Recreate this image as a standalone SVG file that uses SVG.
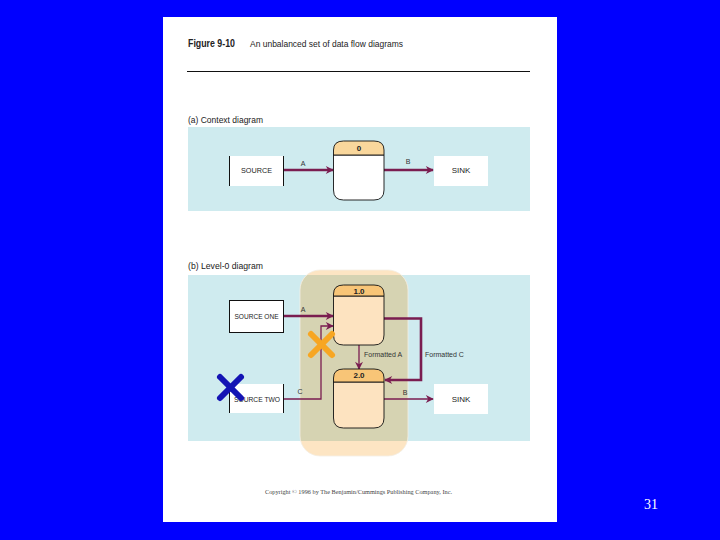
<svg xmlns="http://www.w3.org/2000/svg" width="720" height="540" viewBox="0 0 720 540">
<defs>
<style>
.t{font-family:"Liberation Sans",Arial,sans-serif;fill:#222}
.lbl{font-family:"Liberation Sans",Arial,sans-serif;font-size:7px;fill:#333}
.ent{font-family:"Liberation Sans",Arial,sans-serif;font-size:8px;fill:#222;text-anchor:middle}
.num{font-family:"Liberation Sans",Arial,sans-serif;font-size:8px;font-weight:bold;fill:#222;text-anchor:middle}
.proc{stroke:#111;stroke-width:0.9}
.thick{fill:none;stroke:#7a1d50;stroke-width:2.6}
.thin{fill:none;stroke:#7a1d50;stroke-width:1.3}
.vline{stroke:#111;stroke-width:1}
</style>
<marker id="ahs" viewBox="0 0 10 10" refX="9" refY="5" markerWidth="10" markerHeight="8" orient="auto" markerUnits="userSpaceOnUse">
<path d="M0,0 L10,5 L0,10 L3,5 z" fill="#7a1d50"/>
</marker>
<clipPath id="capsule"><rect x="300" y="270" width="108" height="186" rx="20" ry="20"/></clipPath>
</defs>
<rect x="0" y="0" width="720" height="540" fill="#0000ff"/>
<rect x="163" y="17" width="394" height="505" fill="#ffffff"/>
<text class="t" x="188" y="47" font-size="10" font-weight="bold" textLength="47" lengthAdjust="spacingAndGlyphs">Figure 9-10</text>
<text class="t" x="250" y="47" font-size="9.5" textLength="153" lengthAdjust="spacingAndGlyphs" fill="#333">An unbalanced set of data flow diagrams</text>
<line x1="187" y1="71.5" x2="530" y2="71.5" stroke="#111" stroke-width="1"/>
<text class="t" x="188" y="123" font-size="9" textLength="75" lengthAdjust="spacingAndGlyphs">(a) Context diagram</text>
<rect x="188" y="127" width="342" height="84" fill="#cfebef"/>
<text class="t" x="188" y="269" font-size="9" textLength="75" lengthAdjust="spacingAndGlyphs">(b) Level-0 diagram</text>
<rect x="188" y="275" width="342" height="166" fill="#cfebef"/>
<rect x="300" y="270" width="108" height="186" rx="20" ry="20" fill="#fde5c3"/>
<rect x="300" y="275" width="108" height="166" fill="#d6d3b2" clip-path="url(#capsule)"/>
<rect x="300" y="270" width="108" height="186" rx="20" ry="20" fill="none" stroke="#f4efe4" stroke-width="0.8"/>
<g id="connectors">
<line class="thick" x1="284" y1="170" x2="333" y2="170" marker-end="url(#ahs)"/>
<line class="thick" x1="384" y1="170" x2="433" y2="170" marker-end="url(#ahs)"/>
<line class="thick" x1="284" y1="316" x2="333" y2="316" marker-end="url(#ahs)"/>
<polyline class="thin" points="284,399 321,399 321,326 333,326" marker-end="url(#ahs)"/>
<line class="thin" x1="359" y1="345" x2="359" y2="369" marker-end="url(#ahs)"/>
<polyline class="thick" points="384,318.5 421,318.5 421,380 385,380" marker-end="url(#ahs)"/>
<line class="thin" x1="384" y1="399" x2="433" y2="399" marker-end="url(#ahs)"/>
<text class="lbl" x="303" y="166" text-anchor="middle">A</text>
<text class="lbl" x="408" y="164" text-anchor="middle">B</text>
<text class="lbl" x="303" y="312" text-anchor="middle">A</text>
<text class="lbl" x="300" y="394" text-anchor="middle">C</text>
<text class="lbl" x="364" y="357">Formatted A</text>
<text class="lbl" x="425" y="357">Formatted C</text>
<text class="lbl" x="405" y="395" text-anchor="middle">B</text>
</g>
<g id="source">
<rect x="229" y="156" width="55" height="30" fill="#ffffff"/>
<line class="vline" x1="229.5" y1="156" x2="229.5" y2="186"/>
<line class="vline" x1="283.5" y1="156" x2="283.5" y2="186"/>
<text class="ent" x="256.5" y="173" textLength="31" lengthAdjust="spacingAndGlyphs">SOURCE</text>
</g>
<g id="process0">
<path d="M333.5,155 V190 Q333.5,200 343.5,200 H374 Q384,200 384,190 V155 Z" fill="#ffffff" class="proc"/>
<path d="M333.5,155 V150 Q333.5,141 343.5,141 H374 Q384,141 384,150 V155 Z" fill="#f9d79c" class="proc"/>
<text class="num" x="359" y="151">0</text>
</g>
<g id="sink-a">
<rect x="434" y="156" width="54" height="30" fill="#ffffff"/>
<text class="ent" x="461" y="173">SINK</text>
</g>
<g id="source-one">
<rect x="229.5" y="300.5" width="54" height="32" fill="#ffffff" stroke="#111" stroke-width="1"/>
<text class="ent" x="256.5" y="319" textLength="44" lengthAdjust="spacingAndGlyphs">SOURCE ONE</text>
</g>
<g id="process1">
<path d="M333.5,296 V335 Q333.5,345 343.5,345 H374 Q384,345 384,335 V296 Z" fill="#fde3c0" class="proc"/>
<path d="M333.5,296 V294 Q333.5,285 343.5,285 H374 Q384,285 384,294 V296 Z" fill="#f8c577" class="proc"/>
<text class="num" x="359" y="294">1.0</text>
</g>
<g id="process2">
<path d="M333.5,382 V418 Q333.5,428 343.5,428 H374 Q384,428 384,418 V382 Z" fill="#fde3c0" class="proc"/>
<path d="M333.5,382 V378 Q333.5,369 343.5,369 H374 Q384,369 384,378 V382 Z" fill="#f8c577" class="proc"/>
<text class="num" x="359" y="378">2.0</text>
</g>
<g id="source-two">
<rect x="229" y="384" width="55" height="29" fill="#ffffff"/>
<line class="vline" x1="229.5" y1="384" x2="229.5" y2="413"/>
<line class="vline" x1="283.5" y1="384" x2="283.5" y2="413"/>
<text class="ent" x="257" y="402" textLength="46" lengthAdjust="spacingAndGlyphs">SOURCE TWO</text>
</g>
<g id="sink-b">
<rect x="434" y="384" width="54" height="30" fill="#ffffff"/>
<text class="ent" x="461" y="402">SINK</text>
</g>
<g id="orange-x" stroke="#f7a623" stroke-width="6" stroke-linecap="round">
<line x1="311" y1="334" x2="332" y2="355"/>
<line x1="332" y1="334" x2="311" y2="355"/>
</g>
<g id="blue-x" stroke="#1414b4" stroke-width="6" stroke-linecap="round">
<line x1="220" y1="377" x2="241" y2="398"/>
<line x1="241" y1="377" x2="220" y2="398"/>
</g>
<text x="265" y="494" font-family="'Liberation Serif','Times New Roman',serif" font-size="6.5" fill="#444" textLength="187" lengthAdjust="spacingAndGlyphs">Copyright © 1996 by The Benjamin/Cummings Publishing Company, Inc.</text>
<text x="651" y="509" font-family="'Liberation Serif','Times New Roman',serif" font-size="14" fill="#ffffff" text-anchor="middle">31</text>
</svg>
